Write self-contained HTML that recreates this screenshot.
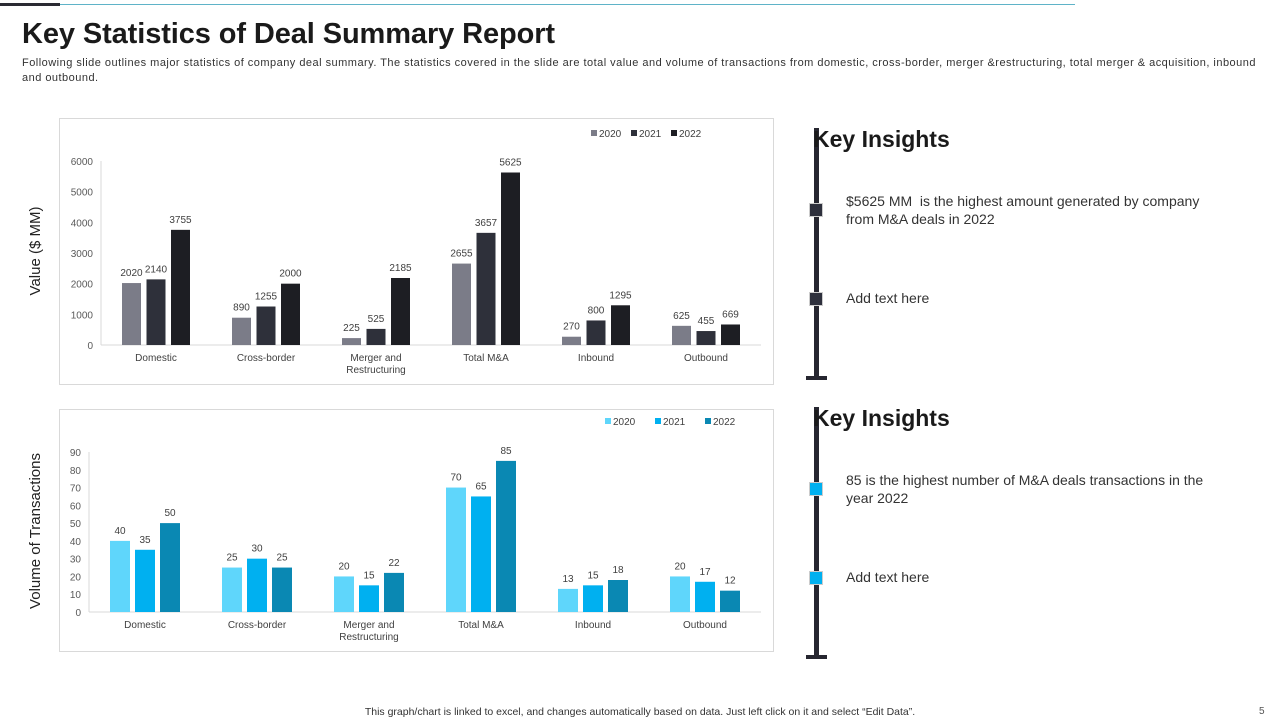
<!DOCTYPE html>
<html><head><meta charset="utf-8"><style>
body{margin:0;width:1280px;height:720px;background:#fff;font-family:"Liberation Sans",sans-serif;position:relative;overflow:hidden}
.a{position:absolute}
</style></head><body>
<div class="a" style="left:0;top:3px;width:60px;height:3px;background:#2a2a33"></div>
<div class="a" style="left:60px;top:4px;width:1015px;height:1px;background:#5fb3c8"></div>
<div class="a" style="left:22px;top:18px;font-size:29px;font-weight:bold;color:#1a1a1a;letter-spacing:-0.1px">Key Statistics of Deal Summary Report</div>
<div class="a" style="left:22px;top:56px;width:1256px;font-size:11px;line-height:15px;color:#333;letter-spacing:0.48px">Following slide outlines major statistics of company deal summary. The statistics covered in the slide are total value and volume of transactions from domestic, cross-border, merger &amp;restructuring, total merger &amp; acquisition, inbound<br>and outbound.</div>

<svg class="a" style="left:0;top:0" width="1280" height="720" id="svg">
<rect x="59.5" y="118.5" width="714" height="266" fill="none" stroke="#d9d9d9"/>
<rect x="59.5" y="409.5" width="714" height="242" fill="none" stroke="#d9d9d9"/>
<text x="40" y="251" transform="rotate(-90 40 251)" text-anchor="middle" font-size="15" fill="#222">Value ($ MM)</text>
<text x="40" y="531" transform="rotate(-90 40 531)" text-anchor="middle" font-size="15" fill="#222">Volume of Transactions</text>
</svg>

<script>
const categories=["Domestic","Cross-border","Merger and|Restructuring","Total M&A","Inbound","Outbound"];
const seriesNames=["2020","2021","2022"];
const value2020=[2020,890,225,2655,270,625];
const value2021=[2140,1255,525,3657,800,455];
const value2022=[3755,2000,2185,5625,1295,669];
const valueTicks=[0,1000,2000,3000,4000,5000,6000];
const volume2020=[40,25,20,70,13,20];
const volume2021=[35,30,15,65,15,17];
const volume2022=[50,25,22,85,18,12];
const volumeTicks=[0,10,20,30,40,50,60,70,80,90];
const NS="http://www.w3.org/2000/svg";
const svg=document.getElementById('svg');
function mk(tag,attrs,txt){const e=document.createElementNS(NS,tag);for(const k in attrs)e.setAttribute(k,attrs[k]);if(txt!==undefined)e.textContent=txt;svg.appendChild(e);return e;}
function chart(cfg){
  const y=v=>cfg.y0-(v/cfg.max)*(cfg.y0-cfg.yTop);
  const band=(cfg.x1-cfg.x0)/categories.length;
  mk('line',{x1:cfg.x0,x2:cfg.x0,y1:cfg.yTop,y2:cfg.y0,stroke:'#d9d9d9'});
  mk('line',{x1:cfg.x0,x2:cfg.x1,y1:cfg.y0,y2:cfg.y0,stroke:'#d9d9d9'});
  cfg.ticks.forEach(t=>{const e=mk('text',{x:cfg.x0-8,y:y(t)+4,'text-anchor':'end','font-size':10,fill:'#595959'},t);

});
  categories.forEach((c,i)=>{
    const cx=cfg.x0+band*(i+0.5);
    cfg.series.forEach((s,j)=>{
      const bx=cx+(j-1)*cfg.step-cfg.bw/2;
      const r=mk('rect',{x:bx,y:y(s[i]),width:cfg.bw,height:cfg.y0-y(s[i]),fill:cfg.colors[j]});
      
      
      const l=mk('text',{x:bx+cfg.bw/2,y:y(s[i])-7,'text-anchor':'middle','font-size':10,fill:'#404040'},s[i]);
      
      
    });
    c.split('|').forEach((p,k)=>{const e=mk('text',{x:cx,y:cfg.y0+16+k*12,'text-anchor':'middle','font-size':10,fill:'#404040'},p);

});
  });
  seriesNames.forEach((n,j)=>{
    const lx=cfg.legX+j*cfg.legStep;
    const r=mk('rect',{x:lx,y:cfg.legY-7,width:6,height:6,fill:cfg.colors[j]});
    
    
    const t=mk('text',{x:lx+8,y:cfg.legY,'font-size':10,fill:'#404040'},n);
    
    
  });
}
chart({id:'value',x0:101,x1:761,y0:345,yTop:161,max:6000,ticks:valueTicks,series:[value2020,value2021,value2022],colors:['#7b7c88','#2e303a','#1d1e23'],bw:19,step:24.5,legX:591,legStep:40,legY:137});
chart({id:'volume',x0:89,x1:761,y0:612,yTop:452,max:90,ticks:volumeTicks,series:[volume2020,volume2021,volume2022],colors:['#5fd6fb','#00b0f0','#0a88b3'],bw:20,step:25,legX:605,legStep:50,legY:425});
</script>

<div class="a" style="left:814px;top:128px;width:5px;height:250px;background:#262630"></div>
<div class="a" style="left:806px;top:376px;width:21px;height:4px;background:#262630"></div>
<div class="a" style="left:813px;top:126px;font-size:23px;font-weight:bold;color:#1a1a1a">Key Insights</div>
<div class="a" style="left:809px;top:203px;width:12px;height:12px;background:#2e303d;border:1px solid #ccc"></div>
<div class="a" style="left:809px;top:292px;width:12px;height:12px;background:#2e303d;border:1px solid #ccc"></div>
<div class="a" style="left:846px;top:192px;width:375px;font-size:14px;line-height:18px;color:#333">$5625 MM&nbsp; is the highest amount generated by company from M&amp;A deals in 2022</div>
<div class="a" style="left:846px;top:290px;font-size:14px;color:#333">Add text here</div>
<div class="a" style="left:814px;top:407px;width:5px;height:250px;background:#262630"></div>
<div class="a" style="left:806px;top:655px;width:21px;height:4px;background:#262630"></div>
<div class="a" style="left:813px;top:405px;font-size:23px;font-weight:bold;color:#1a1a1a">Key Insights</div>
<div class="a" style="left:809px;top:482px;width:12px;height:12px;background:#00b0f0;border:1px solid #ccc"></div>
<div class="a" style="left:809px;top:571px;width:12px;height:12px;background:#00b0f0;border:1px solid #ccc"></div>
<div class="a" style="left:846px;top:471px;width:360px;font-size:14px;line-height:18px;color:#333">85 is the highest number of M&amp;A deals transactions in the year 2022</div>
<div class="a" style="left:846px;top:569px;font-size:14px;color:#333">Add text here</div>

<div class="a" style="left:0;width:1280px;top:706px;text-align:center;font-size:10.5px;color:#333">This graph/chart is linked to excel, and changes automatically based on data. Just left click on it and select “Edit Data”.</div>
<div class="a" style="left:1259px;top:706px;font-size:10px;color:#555">5</div>
</body></html>
